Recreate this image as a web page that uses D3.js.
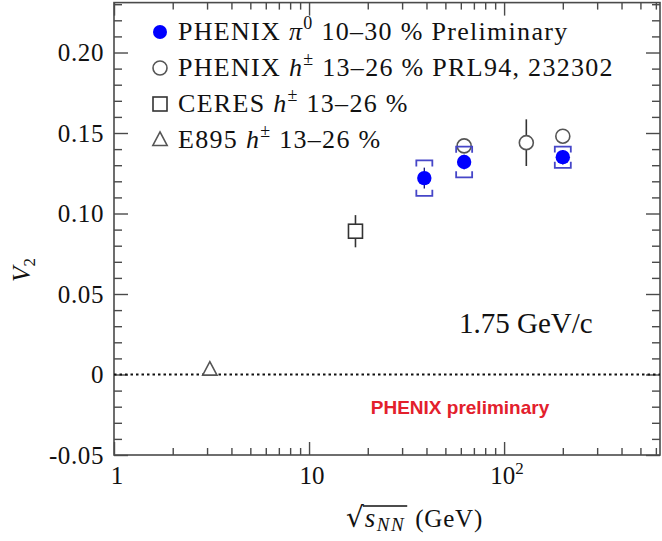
<!DOCTYPE html>
<html><head><meta charset="utf-8">
<script src="https://cdn.jsdelivr.net/npm/d3@7"></script>
<style>body{margin:0;background:#fff}</style></head>
<body>
<svg id="chart" width="662" height="541"></svg>
<script>
// ---- data ----
const pi0Energy = [39, 62.4, 200];
const pi0V2     = [0.122, 0.132, 0.135];
const pi0Stat   = [0.004, 0.002, 0.002];
const pi0Sys    = [0.011, 0.0095, 0.0066];
const hEnergy   = [62.4, 130, 200];
const hV2       = [0.142, 0.144, 0.148];
const hErr      = [0, 0.0145, 0];
const ceresEnergy = [17.3];
const ceresV2     = [0.089];
const ceresErr    = [0.010];
const e895Energy  = [3.1];
const e895V2      = [0.003];
const yTicks      = [-0.05, 0, 0.05, 0.10, 0.15, 0.20];
const yTickLabels = ["-0.05", "0", "0.05", "0.10", "0.15", "0.20"];
const xTicks      = [1, 10, 100];
const xTickBase   = ["1", "10", "10"];
const xTickSup    = ["", "", "2"];
const legendPre   = ["PHENIX ", "PHENIX ", "CERES ", "E895 "];
const legendSym   = ["π", "h", "h", "h"];
const legendSup   = ["0", "±", "±", "±"];
const legendPost  = [" 10–30 % Preliminary", " 13–26 % PRL94, 232302", " 13–26 %", " 13–26 %"];
const legendMarker = ["filled", "open", "square", "triangle"];

// ---- layout ----
const svg = d3.select("#chart");
const L = 114, R = 660, T = 2.6, B = 455;
const x = d3.scaleLog().domain([1, 630]).range([L, R]);
const y = d3.scaleLinear().domain([-0.05, 0.231]).range([B, T]);
const frameCol = "#4a4a4a";
const SERIF = '"Liberation Serif"';
const SANS = '"Liberation Sans"';
const serifText = sel => sel.style("font-family", SERIF);

const yMinor = d3.range(-0.05, 0.2301, 0.01).map(v => +v.toFixed(3)).filter(v => !yTicks.some(t => Math.abs(t - v) < 1e-6));
const xMinor = [];
[1, 10, 100].forEach(d => { for (let k = 2; k <= 9; k++) if (d * k < 630) xMinor.push(d * k); });

function styleAxis(g) {
  g.select(".domain").remove();
  g.selectAll(".tick line").attr("stroke", frameCol).attr("stroke-width", 1.4);
}
svg.append("g").attr("transform", `translate(${L},0)`)
  .call(d3.axisLeft(y).tickValues(yTicks).tickSize(-14).tickFormat("")).call(styleAxis);
svg.append("g").attr("transform", `translate(${L},0)`)
  .call(d3.axisLeft(y).tickValues(yMinor).tickSize(-8).tickFormat("")).call(styleAxis);
svg.append("g").attr("transform", `translate(${R},0)`)
  .call(d3.axisRight(y).tickValues(yTicks).tickSize(-14).tickFormat("")).call(styleAxis);
svg.append("g").attr("transform", `translate(${R},0)`)
  .call(d3.axisRight(y).tickValues(yMinor).tickSize(-8).tickFormat("")).call(styleAxis);
svg.append("g").attr("transform", `translate(0,${B})`)
  .call(d3.axisBottom(x).tickValues(xTicks).tickSize(-13).tickFormat("")).call(styleAxis);
svg.append("g").attr("transform", `translate(0,${B})`)
  .call(d3.axisBottom(x).tickValues(xMinor).tickSize(-7).tickFormat("")).call(styleAxis);
svg.append("g").attr("transform", `translate(0,${T})`)
  .call(d3.axisTop(x).tickValues(xTicks).tickSize(-13).tickFormat("")).call(styleAxis);
svg.append("g").attr("transform", `translate(0,${T})`)
  .call(d3.axisTop(x).tickValues(xMinor).tickSize(-7).tickFormat("")).call(styleAxis);

svg.append("rect").attr("x", L).attr("y", T).attr("width", R - L).attr("height", B - T)
  .attr("fill", "none").attr("stroke", frameCol).attr("stroke-width", 1.6);

// y tick labels
svg.append("g").selectAll("text").data(yTicks).join("text").call(serifText)
  .attr("x", L - 10).attr("y", d => y(d)).attr("dy", "0.35em")
  .attr("text-anchor", "end").style("font-size", "25px")
  .style("letter-spacing", "0.6px").attr("fill", "#111")
  .text((d, i) => yTickLabels[i]);

// x tick labels
const xl = svg.append("g").selectAll("text").data(xTicks).join("text").call(serifText)
  .attr("x", d => x(d) + 3).attr("y", B + 29)
  .attr("text-anchor", "middle").style("font-size", "25px").attr("fill", "#111");
xl.append("tspan").text((d, i) => xTickBase[i]);
xl.append("tspan").style("font-size", "17px").attr("dy", -10).text((d, i) => xTickSup[i]);

// axis titles
const yt = svg.append("text").call(serifText).attr("transform", `translate(30,270) rotate(-90)`)
  .attr("text-anchor", "middle").style("font-size", "25px").attr("fill", "#111");
yt.append("tspan").style("font-style", "italic").text("V");
yt.append("tspan").style("font-size", "17px").attr("dy", 5).text("2");

const xt = svg.append("g").attr("transform", `translate(346,527)`);
const sq = xt.append("text").style("font-family", '"DejaVu Serif"').style("font-size", "28px").attr("fill", "#111").text("√");
const w1 = sq.node().getComputedTextLength();
const sn = xt.append("text").call(serifText).attr("x", w1 + 1).style("font-size", "27px").style("letter-spacing", "1.5px").attr("fill", "#111");
sn.append("tspan").style("font-style", "italic").text("s");
sn.append("tspan").style("font-style", "italic").style("font-size", "19px").attr("dy", 4).text("NN");
const w2 = sn.node().getComputedTextLength();
xt.append("line").attr("x1", w1 - 1).attr("x2", w1 + w2 + 3).attr("y1", -21).attr("y2", -21)
  .attr("stroke", "#111").attr("stroke-width", 1.3);
xt.append("text").call(serifText).attr("x", w1 + w2 + 11).style("font-size", "25px")
  .style("letter-spacing", "0.8px").attr("fill", "#111").text("(GeV)");

// zero line
svg.append("line").attr("x1", L).attr("x2", R).attr("y1", y(0)).attr("y2", y(0))
  .attr("stroke", "#111").attr("stroke-width", 2.2).attr("stroke-dasharray", "2.5,3");

// annotations
svg.append("text").call(serifText).attr("x", 459).attr("y", 333).style("font-size", "29px")
  .attr("fill", "#111").text("1.75 GeV/c");
svg.append("text").style("font-family", SANS).attr("x", 460).attr("y", 414).attr("text-anchor", "middle")
  .style("font-weight", "bold").style("font-size", "19px").attr("fill", "#e3202c").text("PHENIX preliminary");

const grey = "#555";
function triPath(cx, cy, s) {
  return `M${cx},${cy - s * 0.62}L${cx + s * 0.55},${cy + s * 0.42}L${cx - s * 0.55},${cy + s * 0.42}Z`;
}

// E895
svg.append("g").selectAll("path").data(e895Energy).join("path")
  .attr("d", (d, i) => triPath(x(d), y(e895V2[i]), 13))
  .attr("fill", "white").attr("stroke", grey).attr("stroke-width", 1.6);

// CERES
const cg = svg.append("g");
cg.selectAll("line").data(ceresEnergy).join("line")
  .attr("x1", d => x(d)).attr("x2", d => x(d))
  .attr("y1", (d, i) => y(ceresV2[i] + ceresErr[i])).attr("y2", (d, i) => y(ceresV2[i] - ceresErr[i]))
  .attr("stroke", "#333").attr("stroke-width", 1.6);
cg.selectAll("rect").data(ceresEnergy).join("rect")
  .attr("x", d => x(d) - 7).attr("y", (d, i) => y(ceresV2[i]) - 7).attr("width", 14).attr("height", 14)
  .attr("fill", "white").attr("stroke", "#333").attr("stroke-width", 1.6);

// PHENIX h±
const hg = svg.append("g");
hg.selectAll("line").data(hEnergy).join("line")
  .attr("x1", d => x(d)).attr("x2", d => x(d))
  .attr("y1", (d, i) => y(hV2[i] + hErr[i])).attr("y2", (d, i) => y(hV2[i] - hErr[i]))
  .attr("stroke", "#333").attr("stroke-width", 1.6);
hg.selectAll("circle").data(hEnergy).join("circle")
  .attr("cx", d => x(d)).attr("cy", (d, i) => y(hV2[i])).attr("r", 7)
  .attr("fill", "white").attr("stroke", grey).attr("stroke-width", 1.6);

// PHENIX pi0 systematic brackets
const bc = "#4646c8";
const pg = svg.append("g");
pi0Energy.forEach((e, i) => {
  const cx = x(e), yt2 = y(pi0V2[i] + pi0Sys[i]), yb = y(pi0V2[i] - pi0Sys[i]), hw = 8, leg = 6;
  pg.append("path").attr("d", `M${cx - hw},${yt2 + leg}V${yt2}H${cx + hw}V${yt2 + leg}`)
    .attr("fill", "none").attr("stroke", bc).attr("stroke-width", 1.8);
  pg.append("path").attr("d", `M${cx - hw},${yb - leg}V${yb}H${cx + hw}V${yb - leg}`)
    .attr("fill", "none").attr("stroke", bc).attr("stroke-width", 1.8);
});
pg.selectAll("line.stat").data(pi0Energy).join("line").attr("class", "stat")
  .attr("x1", d => x(d)).attr("x2", d => x(d))
  .attr("y1", (d, i) => y(pi0V2[i] + pi0Stat[i]) - 4).attr("y2", (d, i) => y(pi0V2[i] - pi0Stat[i]) + 4)
  .attr("stroke", "#1a1a80").attr("stroke-width", 1.4);
pg.selectAll("circle").data(pi0Energy).join("circle")
  .attr("cx", d => x(d)).attr("cy", (d, i) => y(pi0V2[i])).attr("r", 7.2)
  .attr("fill", "#0000ff");

// legend
const lg = svg.append("g");
legendPre.forEach((p, i) => {
  const cy = 32 + i * 36, mx = 160;
  const m = legendMarker[i];
  if (m === "filled") lg.append("circle").attr("cx", mx).attr("cy", cy).attr("r", 7).attr("fill", "#0000ff");
  else if (m === "open") lg.append("circle").attr("cx", mx).attr("cy", cy).attr("r", 7).attr("fill", "white").attr("stroke", grey).attr("stroke-width", 1.6);
  else if (m === "square") lg.append("rect").attr("x", mx - 7).attr("y", cy - 7).attr("width", 14).attr("height", 14).attr("fill", "white").attr("stroke", "#333").attr("stroke-width", 1.6);
  else lg.append("path").attr("d", triPath(mx, cy, 13)).attr("fill", "white").attr("stroke", grey).attr("stroke-width", 1.6);
  const t = lg.append("text").call(serifText).attr("x", 178).attr("y", cy + 8)
    .style("font-size", "26px").style("letter-spacing", "1.3px").attr("fill", "#111");
  t.append("tspan").text(p);
  t.append("tspan").style("font-style", "italic").text(legendSym[i]);
  t.append("tspan").style("font-size", "18px").attr("dy", -11).text(legendSup[i]);
  t.append("tspan").attr("dy", 11).text(legendPost[i]);
});
</script>
</body></html>
